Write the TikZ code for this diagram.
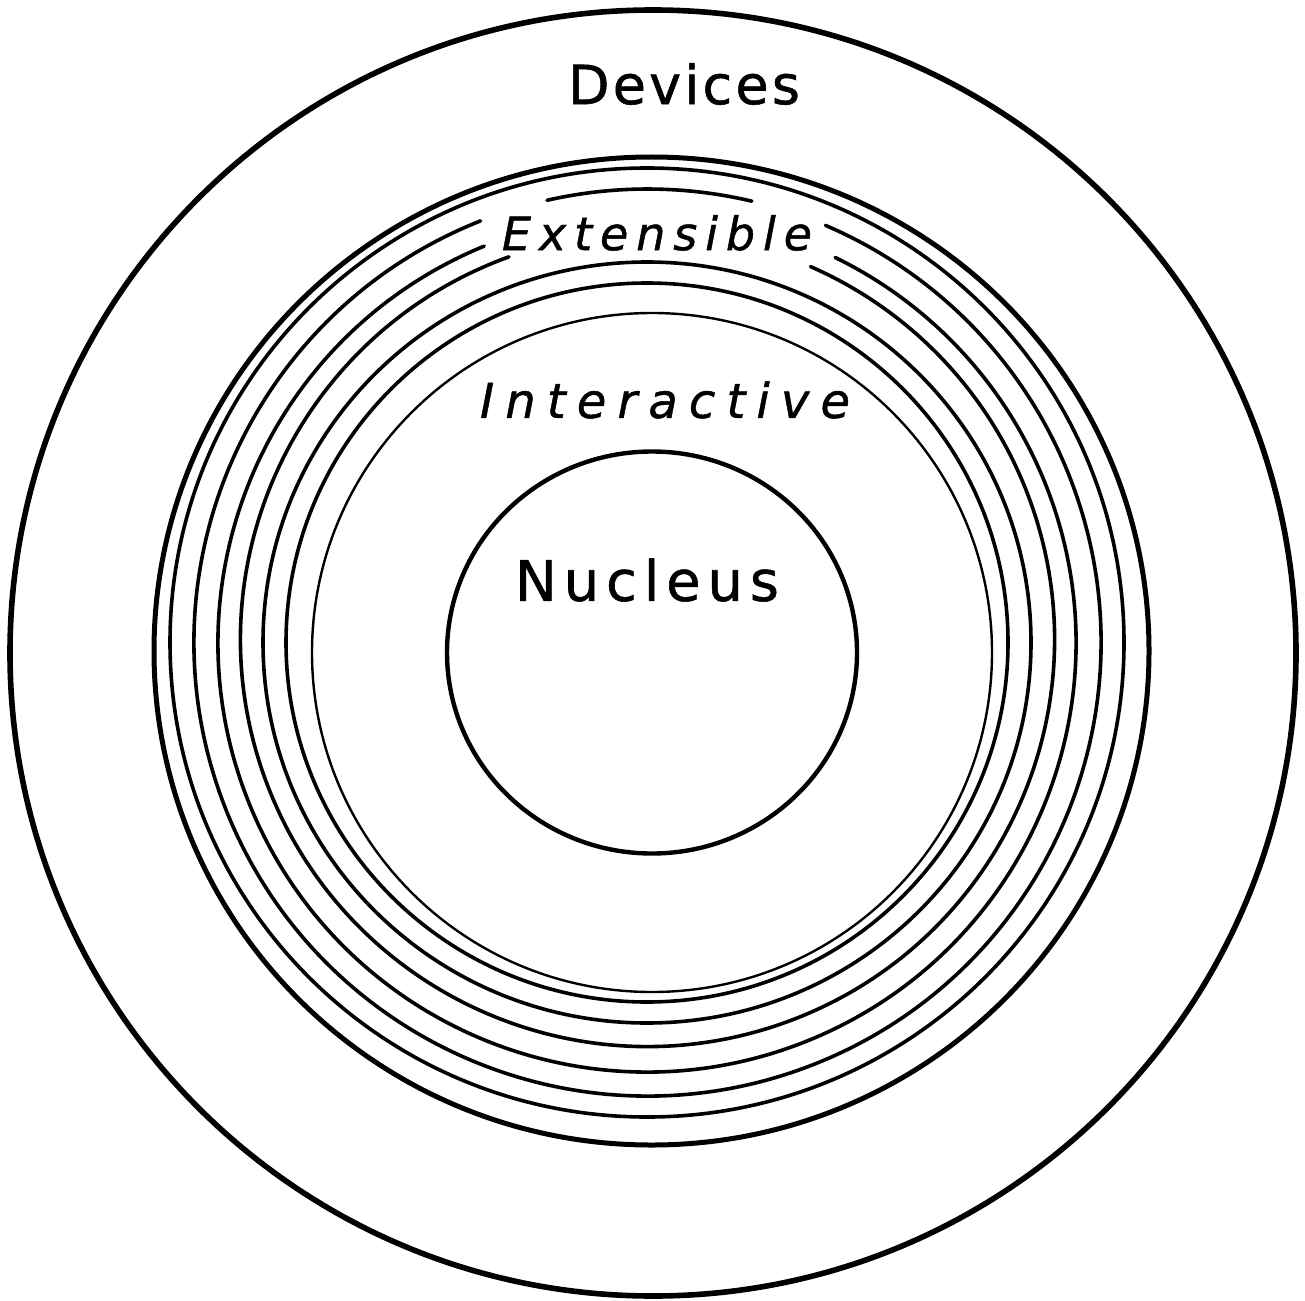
\documentclass[tikz,border=0pt]{standalone}
\usepackage{fontspec}
\setmainfont{DejaVu Sans}[FakeBold=1]
\newcommand\spreadbox[2]{\makebox[#1][s]{#2}}
\begin{document}
\begin{tikzpicture}[x=0.5pt,y=0.5pt,line cap=round,
  ringline/.style={line width=1.8pt},
  thickring/.style={line width=2.5pt},
  thinring/.style={line width=1.2pt},
  lbl/.style={inner sep=0pt,anchor=center}]
\useasboundingbox (0,0) rectangle (1305,-1300);
\fill[white] (0,0) rectangle (1305,-1300);
% outer circle
\coordinate (co) at (653,-653);
\draw[line width=2.8pt] (co) circle[radius=643];
% concentric rings
\coordinate (c1) at (651.5,-651);
\coordinate (c2) at (647,-642.5);
\coordinate (c3) at (647.5,-642.5);
\coordinate (c4) at (647,-643);
\coordinate (c5) at (647.5,-639.5);
\coordinate (c6) at (647,-642.5);
\coordinate (c7) at (647,-642.5);
\coordinate (c8) at (652,-652.5);
\draw[thickring] (c1) circle[x radius=497.5,y radius=494];
\draw[ringline] (c2) circle[x radius=477,y radius=474.5];
\draw[ringline] (c3) ++(111.6:453.5) arc[start angle=111.6,end angle=426.9,radius=453.5];
\draw[ringline] (c3) ++(76.7:453.5) arc[start angle=76.7,end angle=102.8,radius=453.5];
\draw[ringline] (c4) ++(112.3:429) arc[start angle=112.3,end angle=424.0,radius=429];
\draw[ringline] (c5) ++(109.9:407) arc[start angle=109.9,end angle=426.4,radius=407];
\draw[ringline] (c6) circle[x radius=384,y radius=380.5];
\draw[ringline] (c7) circle[x radius=361,y radius=359.5];
\draw[thinring] (c8) circle[x radius=340,y radius=339.5];
% nucleus
\coordinate (cn) at (652,-652.5);
\draw[line width=2.2pt] (cn) circle[x radius=205,y radius=201];
% labels
\node[lbl] (dev) at (684,-84) {\fontsize{27}{30}\selectfont\spreadbox{116pt}{D\hfill e\hfill v\hfill i\hfill c\hfill e\hfill s}};
\node[lbl] (ext) at (657,-233) {\fontsize{23}{26}\selectfont\itshape\spreadbox{155pt}{E\hfill x\hfill t\hfill e\hfill n\hfill s\hfill i\hfill b\hfill l\hfill e}};
\node[lbl] (int) at (665,-400) {\fontsize{24}{27}\selectfont\itshape\spreadbox{185pt}{I\hfill n\hfill t\hfill e\hfill r\hfill a\hfill c\hfill t\hfill i\hfill v\hfill e}};
\node[lbl] (nuc) at (647,-580) {\fontsize{28}{32}\selectfont\spreadbox{132pt}{N\hfill u\hfill c\hfill l\hfill e\hfill u\hfill s}};
\end{tikzpicture}
\end{document}
